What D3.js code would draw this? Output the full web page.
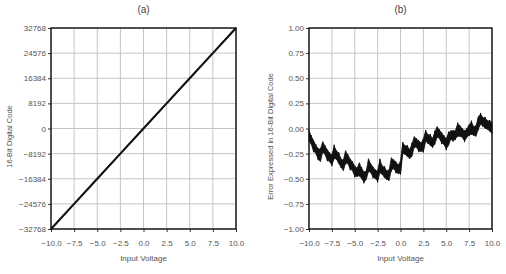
<!DOCTYPE html>
<html>
<head>
<meta charset="utf-8">
<script src="https://cdn.jsdelivr.net/npm/d3@7.9.0/dist/d3.min.js"></script>
<style>
  body { margin: 0; background: #fff; }
  svg { display: block; font-family: "Liberation Sans", Arial, sans-serif; }
  .tick text { fill: #555; font-size: 8px; }
  .tick line { stroke: #333; }
  .domain { display: none; }
  .grid line { stroke: #c4c4c4; stroke-width: 1; }
  .lbl { fill: #555; font-size: 8px; }
  .ylbl { fill: #555; font-size: 7.5px; }
  .ttl { fill: #444; font-size: 10px; }
</style>
</head>
<body>
<svg id="chart" width="506" height="274"></svg>
<script>
// x ticks shared by both panels
const voltTicks = [-10, -7.5, -5, -2.5, 0, 2.5, 5, 7.5, 10];

// (a) transfer function
const codeTicks = [-32768, -24576, -16384, -8192, 0, 8192, 16384, 24576, 32768];
const codeVolts = [-10, -7.5, -5, -2.5, 0, 2.5, 5, 7.5, 10];
const codeVals = [-32768, -24576, -16384, -8192, 0, 8192, 16384, 24576, 32768];

// (b) error, sampled every 0.25 V
const errTicks = [-1, -0.75, -0.5, -0.25, 0, 0.25, 0.5, 0.75, 1];
const errVolts = d3.range(81).map(i => -10 + i * 0.25);
const errMid = [
  -0.07, -0.12, -0.17, -0.21, -0.25, -0.27, -0.18, -0.22, -0.26, -0.29,
  -0.31, -0.24, -0.26, -0.30, -0.34, -0.37, -0.28, -0.31, -0.35, -0.38,
  -0.42, -0.44, -0.40, -0.45, -0.48, -0.47, -0.36, -0.40, -0.43, -0.46,
  -0.47, -0.38, -0.41, -0.44, -0.46, -0.47, -0.35, -0.36, -0.38, -0.41,
  -0.38, -0.20, -0.21, -0.23, -0.25, -0.22, -0.13, -0.15, -0.17, -0.19,
  -0.16, -0.08, -0.10, -0.12, -0.14, -0.10, -0.03, -0.06, -0.09, -0.12,
  -0.15, -0.11, -0.06, -0.08, -0.06, -0.02, -0.02, -0.05, -0.07, -0.05,
  -0.01, 0.00, -0.02, -0.03, 0.06, 0.09, 0.07, 0.05, 0.04, 0.02, 0.01
];
// half thickness of the noisy trace
const errSpread = [
  0.05, 0.04, 0.05, 0.04, 0.05, 0.06, 0.05, 0.04, 0.05, 0.04,
  0.05, 0.06, 0.04, 0.05, 0.04, 0.05, 0.06, 0.04, 0.05, 0.04,
  0.05, 0.04, 0.06, 0.05, 0.05, 0.04, 0.06, 0.04, 0.05, 0.04,
  0.05, 0.06, 0.04, 0.05, 0.04, 0.05, 0.06, 0.04, 0.05, 0.04,
  0.06, 0.05, 0.04, 0.05, 0.04, 0.06, 0.05, 0.04, 0.05, 0.04,
  0.06, 0.05, 0.04, 0.05, 0.04, 0.06, 0.05, 0.04, 0.05, 0.04,
  0.05, 0.06, 0.04, 0.05, 0.04, 0.06, 0.05, 0.04, 0.05, 0.04,
  0.05, 0.06, 0.04, 0.05, 0.06, 0.05, 0.04, 0.05, 0.04, 0.05, 0.05
];

const svg = d3.select('#chart');
const plotTop = 28, plotBottom = 229;

function panel(left, right, yTicks, yFmt, title, ylabel, ylabelX) {
  let x = d3.scaleLinear().domain([-10, 10]).range([left, right]);
  let y = d3.scaleLinear().domain([yTicks[0], yTicks[yTicks.length - 1]]).range([plotBottom, plotTop]);
  let g = svg.append('g');

  let grid = g.append('g').attr('class', 'grid');
  grid.selectAll('.v').data(voltTicks).join('line')
      .attr('x1', d => x(d)).attr('x2', d => x(d))
      .attr('y1', plotTop).attr('y2', plotBottom);
  grid.selectAll('.h').data(yTicks).join('line')
      .attr('x1', left).attr('x2', right)
      .attr('y1', d => y(d)).attr('y2', d => y(d));

  g.append('g')
   .attr('transform', `translate(0,${plotBottom})`)
   .call(d3.axisBottom(x).tickValues(voltTicks).tickFormat(d3.format('.1f')).tickSize(3).tickPadding(8));
  g.append('g')
   .attr('transform', `translate(${left},0)`)
   .call(d3.axisLeft(y).tickValues(yTicks).tickFormat(yFmt).tickSize(3).tickPadding(2));

  g.append('rect')
   .attr('x', left).attr('y', plotTop)
   .attr('width', right - left).attr('height', plotBottom - plotTop)
   .attr('fill', 'none').attr('stroke', '#111').attr('stroke-width', 1.4);

  svg.append('text').attr('class', 'ttl')
     .attr('x', (left + right) / 2).attr('y', 13)
     .attr('text-anchor', 'middle').text(title);
  svg.append('text').attr('class', 'lbl')
     .attr('x', (left + right) / 2).attr('y', 261)
     .attr('text-anchor', 'middle').text('Input Voltage');
  svg.append('text').attr('class', 'ylbl')
     .attr('transform', `translate(${ylabelX},${(plotTop + plotBottom) / 2 + 8}) rotate(-90)`)
     .attr('text-anchor', 'middle').text(ylabel);

  return { x, y, g };
}

// (a)
let a = panel(51, 236, codeTicks, d3.format('d'), '(a)', '16-Bit Digital Code', 12);
a.g.append('path')
   .datum(codeVolts.map((v, i) => [v, codeVals[i]]))
   .attr('fill', 'none').attr('stroke', '#111').attr('stroke-width', 2.2)
   .attr('d', d3.line().x(d => a.x(d[0])).y(d => a.y(d[1])));

// (b)
let b = panel(309, 492, errTicks, d3.format('.2f'), '(b)', 'Error Expressed in 16-Bit Digital Code', 273);
let errData = errVolts.map((v, i) => ({ v, m: errMid[i], s: errSpread[i] }));
b.g.append('path')
   .datum(errData)
   .attr('fill', '#111').attr('stroke', '#111').attr('stroke-width', 0.8)
   .attr('d', d3.area()
       .x(d => b.x(d.v))
       .y0(d => b.y(d.m - d.s))
       .y1(d => b.y(d.m + d.s)));
b.g.append('path')
   .datum(errData)
   .attr('fill', 'none').attr('stroke', '#111').attr('stroke-width', 1)
   .attr('d', d3.line()
       .x(d => b.x(d.v))
       .y((d, i) => b.y(d.m + (i % 2 ? d.s : -d.s) * 1.3)));
</script>
</body>
</html>
